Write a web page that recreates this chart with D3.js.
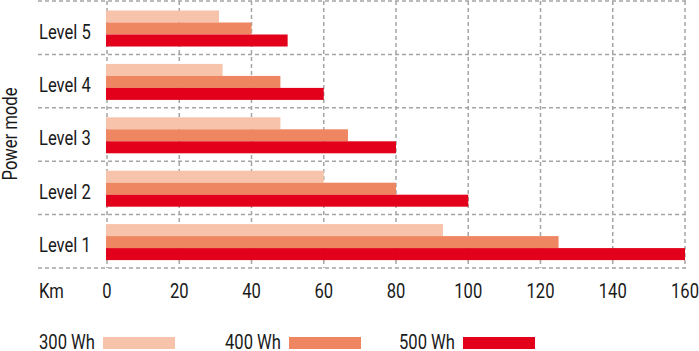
<!DOCTYPE html>
<meta charset="utf-8">
<style>
body { margin: 0; background: #fff; }
text { font-family: Roboto, "DejaVu Sans Condensed", sans-serif; fill: #1a1a1a; }
</style>
<script src="https://d3js.org/d3.v7.min.js"></script>
<div id="chart"></div>
<script>
// data
const levels = ["Level 5", "Level 4", "Level 3", "Level 2", "Level 1"];
const series = ["300 Wh", "400 Wh", "500 Wh"];
const wh300 = [31, 32, 48, 60, 93];
const wh400 = [40, 48, 66.7, 80, 125];
const wh500 = [50, 60, 80, 100, 160];
const xTicks = [0, 20, 40, 60, 80, 100, 120, 140, 160];
const colors = ["#f8c3ab", "#ee8662", "#e2001a"];

const values = [wh300, wh400, wh500];
const W = 699, H = 351;
const squeeze = 0.83; // condensed look

const svg = d3.select("#chart").append("svg")
  .attr("width", W).attr("height", H);

const x = d3.scaleLinear().domain([0, 160]).range([107, 685]);
const y = d3.scaleBand().domain(levels).range([1, 268]);
const sub = d3.scaleBand().domain(series).range([9.5, 45.5]);

// helper: condensed text at a point
function label(g, tx, ty, rot) {
  return g.append("text")
    .attr("transform", `translate(${tx},${ty})${rot ? " rotate(" + rot + ")" : ""} scale(${squeeze},1)`)
    .attr("font-size", 20);
}

// grid
const grid = svg.append("g")
  .attr("stroke", "#a5a5a5").attr("stroke-width", 1.5).attr("stroke-dasharray", "4,3");
grid.selectAll(".v").data(xTicks).join("line")
  .attr("x1", d => x(d)).attr("x2", d => x(d))
  .attr("y1", 1).attr("y2", 268);
grid.selectAll(".h").data(levels.concat(["end"])).join("line")
  .attr("x1", 38).attr("x2", 686)
  .attr("y1", (d, i) => i < levels.length ? y(d) : y.range()[1])
  .attr("y2", (d, i) => i < levels.length ? y(d) : y.range()[1]);

// bars
series.forEach((s, si) => {
  svg.append("g").selectAll("rect").data(levels).join("rect")
    .attr("x", x(0) - 1)
    .attr("y", d => y(d) + sub(s))
    .attr("width", (d, i) => x(values[si][i]) - x(0) + 1)
    .attr("height", sub.bandwidth())
    .attr("fill", colors[si]);
});

// level labels
levels.forEach(d => label(svg, 39, y(d) + 37.5).text(d));

// axis title
label(svg, 17, 134, -90).attr("text-anchor", "middle").text("Power mode");

// x tick labels
xTicks.forEach(d => label(svg, x(d), 298).attr("text-anchor", "middle").text(d));
label(svg, 39, 298).text("Km");

// legend
const lx = d3.scalePoint().domain(series).range([39, 399]);
series.forEach((s, i) => {
  const lx0 = lx(s) + (i === 1 ? 6 : 0);
  label(svg, lx0, 349).text(s);
  svg.append("rect").attr("x", lx0 + 64).attr("y", 337)
    .attr("width", 72).attr("height", 12).attr("fill", colors[i]);
});
</script>
